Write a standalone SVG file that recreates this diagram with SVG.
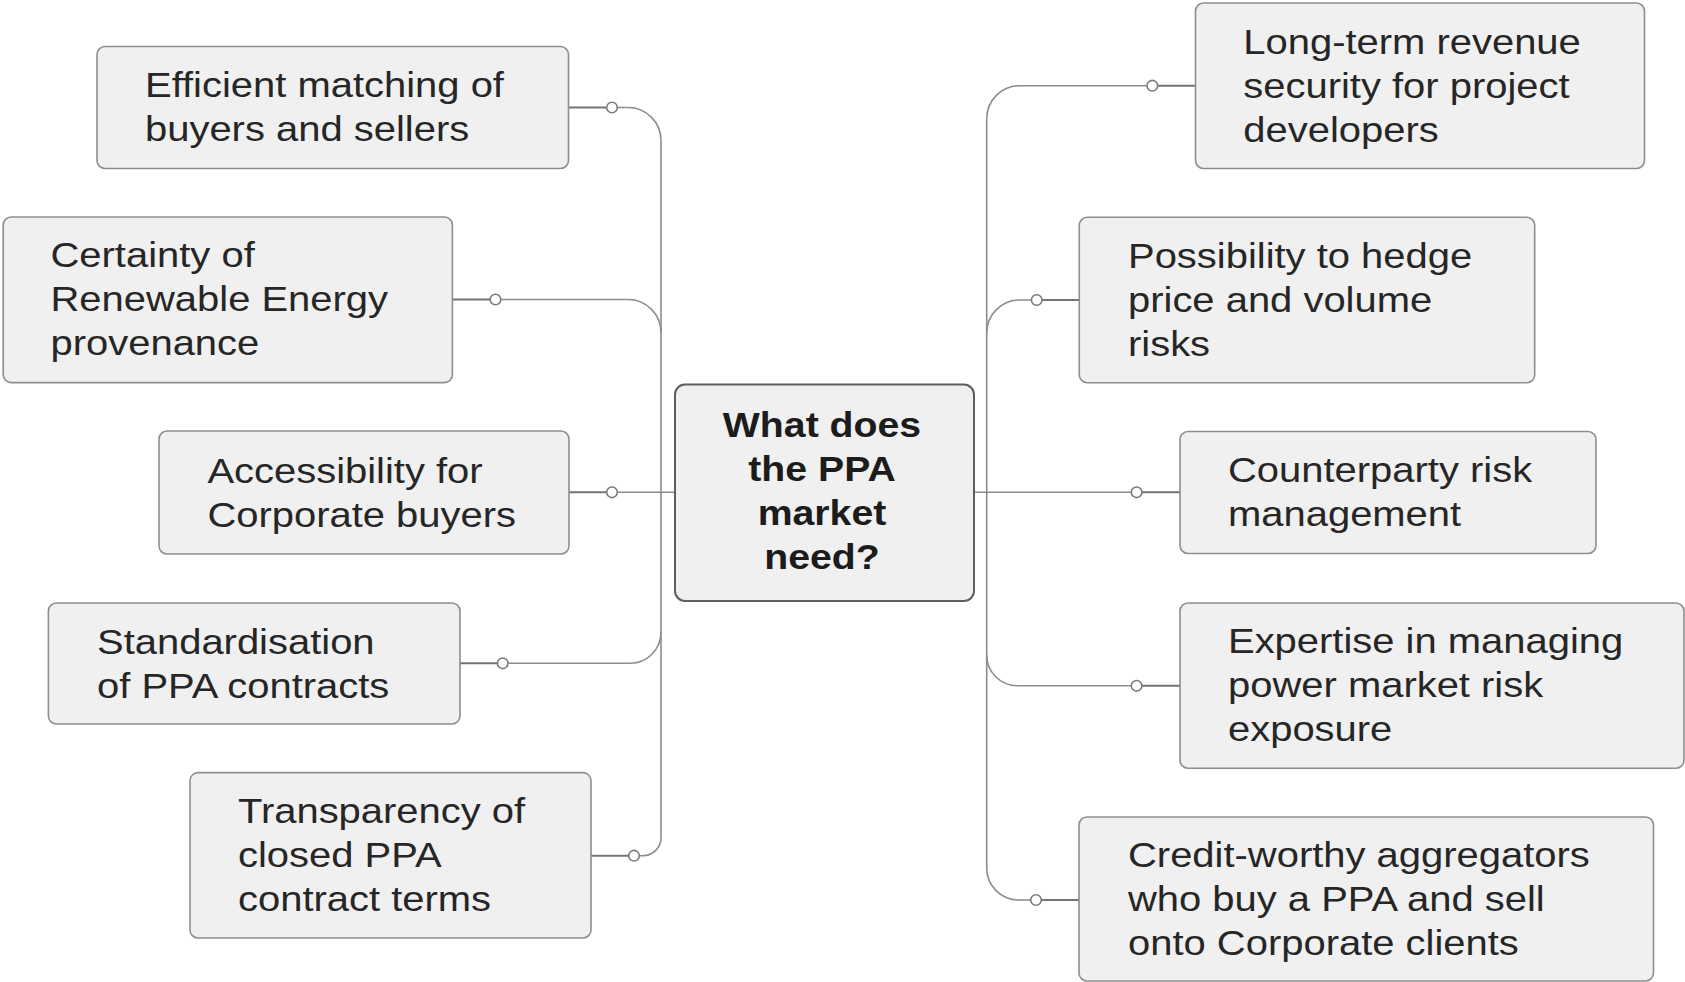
<svg xmlns="http://www.w3.org/2000/svg" width="1685" height="982" viewBox="0 0 1685 982">
  <style>
    .box { fill: #f0f0f0; stroke: #8e8e8e; stroke-width: 1.6; }
    .hub { fill: #f0f0f0; stroke: #5e5e5e; stroke-width: 2; }
    .lbl { font-family: "Liberation Sans", Arial, sans-serif; font-size: 36px; fill: #262626; }
    .title { font-family: "Liberation Sans", Arial, sans-serif; font-size: 36px; font-weight: bold; fill: #1c1c1c; text-anchor: middle; }
    .branch { fill: none; stroke: #8c8c8c; stroke-width: 1.6; }
    .stub { fill: none; stroke: #747474; stroke-width: 2; }
    .dot { fill: #ffffff; stroke: #7a7a7a; stroke-width: 1.6; }
  </style>

  <rect width="1685" height="982" fill="#ffffff"/>

  <!-- connectors -->
  <g id="connectors">
    <!-- left trunk and branches -->
    <path class="branch" d="M661,140.5 V837.7"/>
    <path class="branch" d="M617.3,107.5 H628 A33,33 0 0 1 661,140.5"/>
    <path class="branch" d="M500.8,299.5 H628 A33,33 0 0 1 661,332.5"/>
    <path class="branch" d="M617.3,492.3 H675"/>
    <path class="branch" d="M508,663.3 H630 A31,31 0 0 0 661,632.3"/>
    <path class="branch" d="M639.3,855.7 H643 A18,18 0 0 0 661,837.7"/>
    <!-- right trunk and branches -->
    <path class="branch" d="M986.7,118.7 V868"/>
    <path class="branch" d="M1147,85.7 H1019.7 A33,33 0 0 0 986.7,118.7"/>
    <path class="branch" d="M1031.4,300 H1019.7 A33,33 0 0 0 986.7,333"/>
    <path class="branch" d="M974,492.3 H1131.3"/>
    <path class="branch" d="M986.7,655 A30.8,30.8 0 0 0 1017.5,685.8 H1131.3"/>
    <path class="branch" d="M986.7,868 A32,32 0 0 0 1018.7,900 H1030.7"/>
    <!-- short stubs between node edge and joint -->
    <path class="stub" d="M568.5,107.5 H606.7"/>
    <path class="stub" d="M452.4,299.5 H490.2"/>
    <path class="stub" d="M569,492.3 H606.7"/>
    <path class="stub" d="M460,663.3 H497.4"/>
    <path class="stub" d="M591,855.7 H628.7"/>
    <path class="stub" d="M1157.6,85.7 H1195.5"/>
    <path class="stub" d="M1042,300 H1079.3"/>
    <path class="stub" d="M1141.9,492.3 H1180"/>
    <path class="stub" d="M1141.9,685.8 H1180"/>
    <path class="stub" d="M1041.3,900 H1079"/>
    <!-- joints -->
    <circle class="dot" cx="612" cy="107.5" r="5.3"/>
    <circle class="dot" cx="495.5" cy="299.5" r="5.3"/>
    <circle class="dot" cx="612" cy="492.3" r="5.3"/>
    <circle class="dot" cx="502.7" cy="663.3" r="5.3"/>
    <circle class="dot" cx="634" cy="855.7" r="5.3"/>
    <circle class="dot" cx="1152.3" cy="85.7" r="5.3"/>
    <circle class="dot" cx="1036.7" cy="300" r="5.3"/>
    <circle class="dot" cx="1136.6" cy="492.3" r="5.3"/>
    <circle class="dot" cx="1136.6" cy="685.8" r="5.3"/>
    <circle class="dot" cx="1036" cy="900" r="5.3"/>
  </g>

  <!-- central question -->
  <g id="hub">
    <rect class="hub" x="675" y="384.5" width="299" height="216.5" rx="10"/>
    <g transform="translate(822 0) scale(1.09 1)">
      <text class="title" x="0" y="437">What does</text>
      <text class="title" x="0" y="481">the PPA</text>
      <text class="title" x="0" y="525">market</text>
      <text class="title" x="0" y="569">need?</text>
    </g>
  </g>

  <!-- left side -->
  <g id="matching">
    <rect class="box" x="97" y="46.5" width="471.5" height="122" rx="8"/>
    <g transform="translate(145 0) scale(1.11 1)">
      <text class="lbl" x="0" y="97.5">Efficient matching of</text>
      <text class="lbl" x="0" y="141.5">buyers and sellers</text>
    </g>
  </g>
  <g id="provenance">
    <rect class="box" x="3.2" y="217" width="449.2" height="165.6" rx="8"/>
    <g transform="translate(50.5 0) scale(1.11 1)">
      <text class="lbl" x="0" y="267.3">Certainty of</text>
      <text class="lbl" x="0" y="311.3">Renewable Energy</text>
      <text class="lbl" x="0" y="355.3">provenance</text>
    </g>
  </g>
  <g id="accessibility">
    <rect class="box" x="159" y="431" width="410" height="123" rx="8"/>
    <g transform="translate(207.4 0) scale(1.11 1)">
      <text class="lbl" x="0" y="483">Accessibility for</text>
      <text class="lbl" x="0" y="527">Corporate buyers</text>
    </g>
  </g>
  <g id="standardisation">
    <rect class="box" x="48.4" y="603" width="411.6" height="121" rx="8"/>
    <g transform="translate(97 0) scale(1.11 1)">
      <text class="lbl" x="0" y="654.3">Standardisation</text>
      <text class="lbl" x="0" y="698.3">of PPA contracts</text>
    </g>
  </g>
  <g id="transparency">
    <rect class="box" x="190" y="772.6" width="401" height="165.4" rx="8"/>
    <g transform="translate(238 0) scale(1.11 1)">
      <text class="lbl" x="0" y="823.5">Transparency of</text>
      <text class="lbl" x="0" y="867.5">closed PPA</text>
      <text class="lbl" x="0" y="911.5">contract terms</text>
    </g>
  </g>

  <!-- right side -->
  <g id="revenue">
    <rect class="box" x="1195.5" y="3" width="449" height="165.5" rx="8"/>
    <g transform="translate(1243.3 0) scale(1.11 1)">
      <text class="lbl" x="0" y="54">Long-term revenue</text>
      <text class="lbl" x="0" y="98">security for project</text>
      <text class="lbl" x="0" y="142">developers</text>
    </g>
  </g>
  <g id="hedging">
    <rect class="box" x="1079.3" y="217.3" width="455.4" height="165.4" rx="8"/>
    <g transform="translate(1128 0) scale(1.11 1)">
      <text class="lbl" x="0" y="268">Possibility to hedge</text>
      <text class="lbl" x="0" y="312">price and volume</text>
      <text class="lbl" x="0" y="356">risks</text>
    </g>
  </g>
  <g id="counterparty">
    <rect class="box" x="1180" y="431.5" width="416" height="122" rx="8"/>
    <g transform="translate(1228 0) scale(1.11 1)">
      <text class="lbl" x="0" y="482.4">Counterparty risk</text>
      <text class="lbl" x="0" y="526.4">management</text>
    </g>
  </g>
  <g id="expertise">
    <rect class="box" x="1180" y="603" width="504" height="165.2" rx="8"/>
    <g transform="translate(1228 0) scale(1.11 1)">
      <text class="lbl" x="0" y="653.5">Expertise in managing</text>
      <text class="lbl" x="0" y="697.5">power market risk</text>
      <text class="lbl" x="0" y="741.5">exposure</text>
    </g>
  </g>
  <g id="aggregators">
    <rect class="box" x="1079" y="817" width="574.5" height="164" rx="8"/>
    <g transform="translate(1128 0) scale(1.11 1)">
      <text class="lbl" x="0" y="866.6">Credit-worthy aggregators</text>
      <text class="lbl" x="0" y="910.6">who buy a PPA and sell</text>
      <text class="lbl" x="0" y="954.6">onto Corporate clients</text>
    </g>
  </g>
</svg>
